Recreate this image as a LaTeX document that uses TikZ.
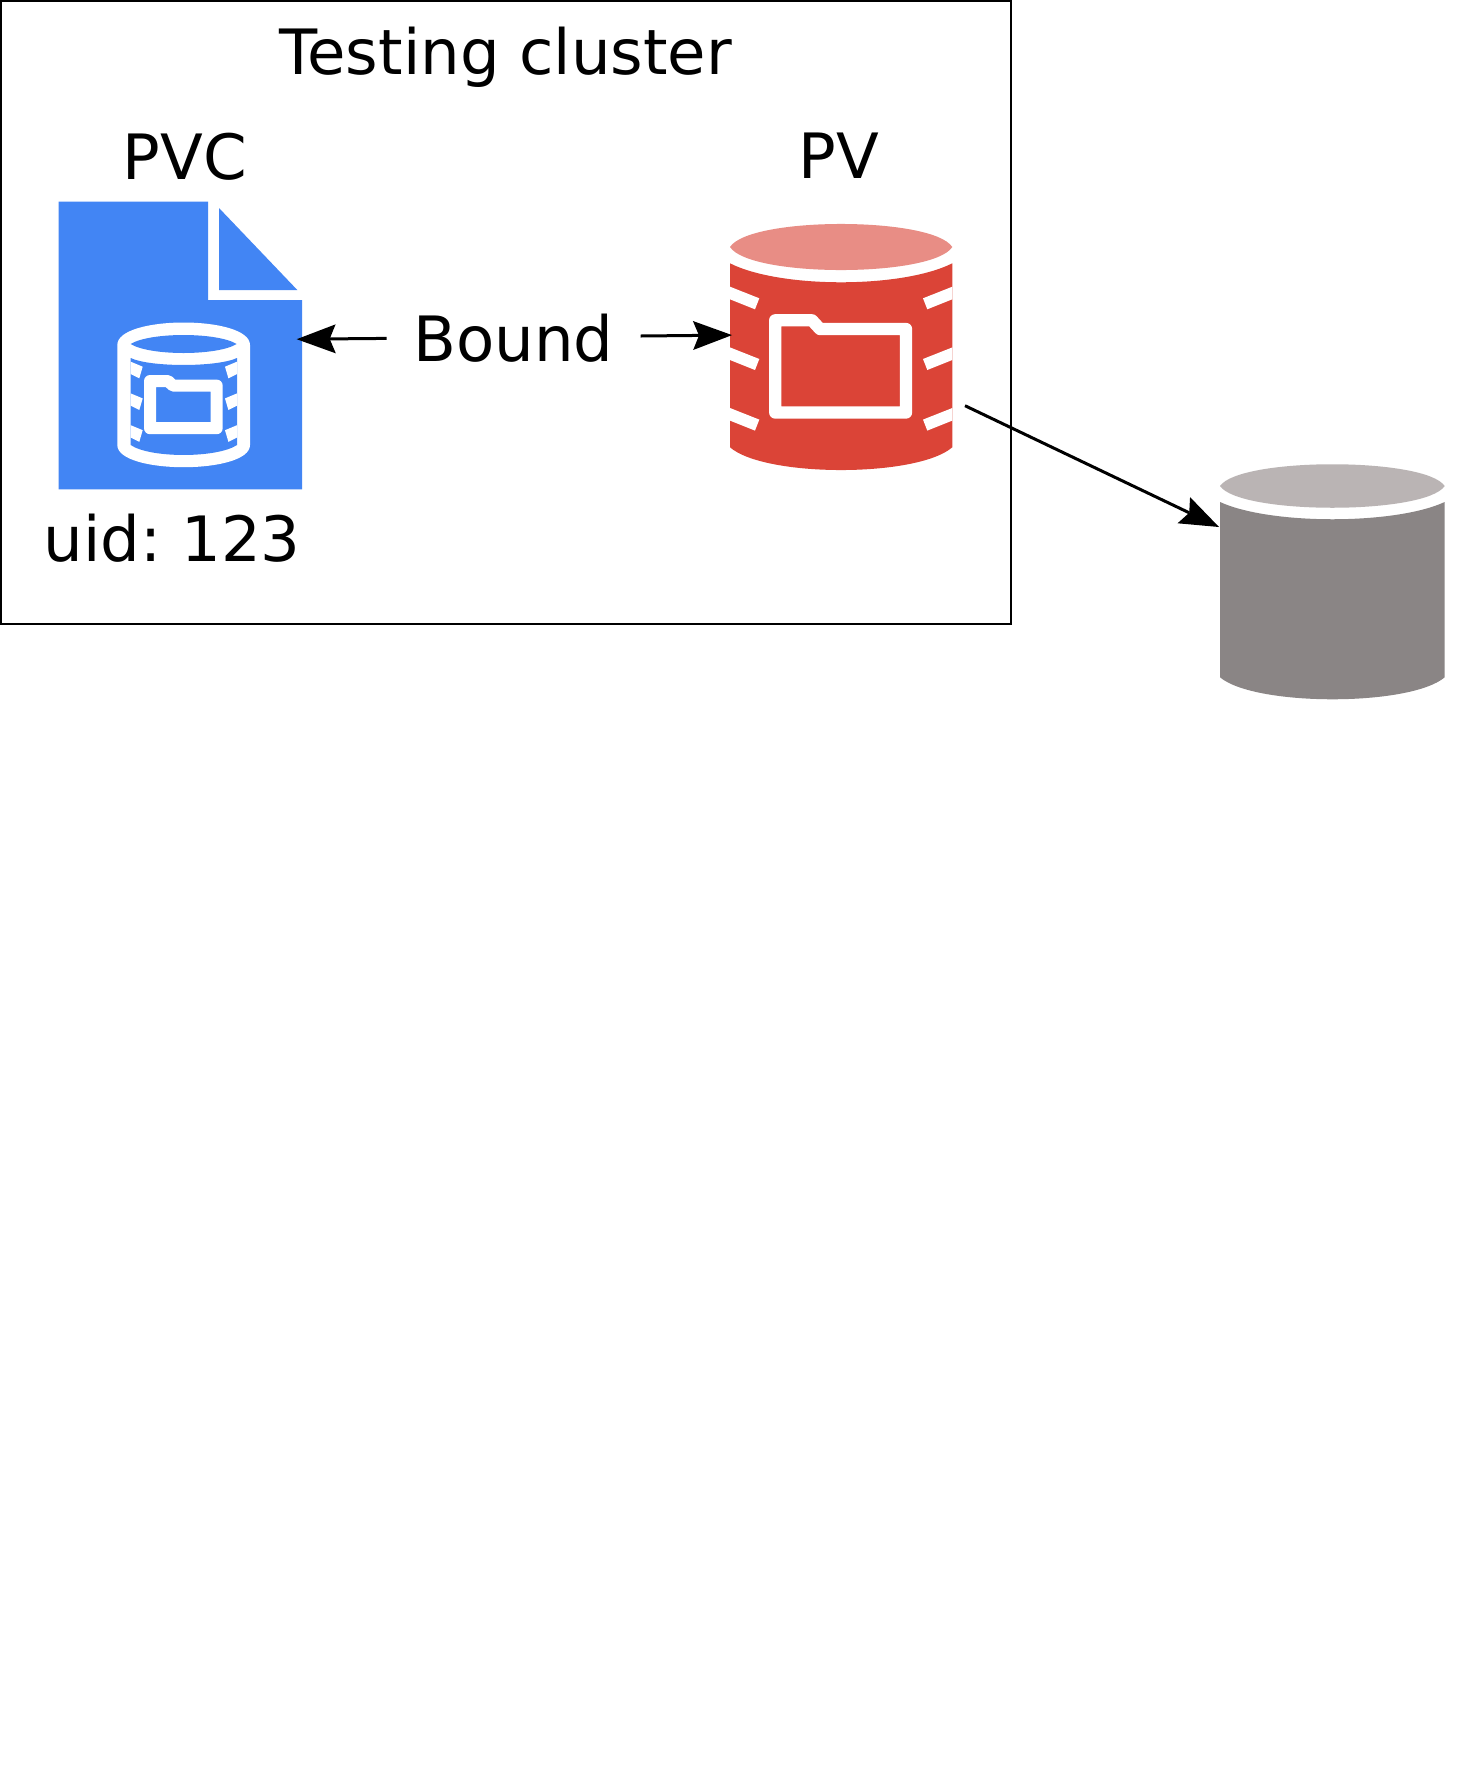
\documentclass[tikz,border=0pt]{standalone}
\usepackage{fontspec}
\setmainfont{DejaVu Sans}
\usetikzlibrary{arrows.meta}
\definecolor{pvcblue}{HTML}{4285F4}
\definecolor{pvred}{HTML}{DB4437}
\definecolor{pvredlight}{HTML}{E88D85}
\definecolor{diskgrey}{HTML}{8A8585}
\definecolor{diskgreylight}{HTML}{BAB4B4}
\tikzset{
  label text/.style={inner sep=0pt,anchor=base,font=\fontsize{62.5}{70}\selectfont\frenchspacing,text=black},
  link/.style={draw=black,line width=3pt,-{Stealth[length=39pt,width=29pt,inset=6pt,line width=0pt]}},
  frame box/.style={draw=black,line width=2pt,fill=none},
  tick/.style={fill=white,draw=none},
  folder big/.style={draw=white,line width=12.3pt,line join=round},
  folder small/.style={draw=white,line width=12pt,line join=round}
}
\begin{document}
\begin{tikzpicture}[x=1pt,y=-1pt]
\useasboundingbox (0,0) rectangle (1471,1770);
\fill[white] (0,0) rectangle (1471,1770);
% cluster frame
\draw[frame box] (1.1,1.1) rectangle (1010.5,623.5);
% PVC document
\fill[pvcblue] (58.7,201.7) -- (208,201.7) -- (208,300) -- (302,300) -- (302,489.3) -- (58.7,489.3) -- cycle;
\fill[pvcblue] (219,208) -- (219,290) -- (297.3,290) -- cycle;
% small cylinder
\fill[white] (117.3,345) .. controls (117.3,315) and (250,315) .. (250,345) -- (250,445) .. controls (250,474.6) and (117.3,474.6) .. (117.3,445) -- cycle;
\fill[pvcblue] (130.7,344) .. controls (150,332) and (217,332) .. (236.7,344) .. controls (217,356) and (150,356) .. cycle;
\fill[pvcblue] (130.7,358) .. controls (150,367.3) and (217,367.3) .. (237,358) -- (237,445) .. controls (217,458.3) and (150,458.3) .. (130.7,445) -- cycle;
\foreach \dy in {0,31.7,63.5}{
  \fill[tick] (130.7,361.7+\dy) -- (142.7,366.7+\dy) -- (139.3,378.3+\dy) -- (130.7,374+\dy) -- cycle;
  \fill[tick] (237,361.7+\dy) -- (225,366.7+\dy) -- (228.4,378.3+\dy) -- (237,374+\dy) -- cycle;
}
\draw[folder small,fill=pvcblue] (150,381) -- (168,381) -- (173,385.6) -- (216.7,385.6) -- (216.7,428.2) -- (150,428.2) -- cycle;
% PV cylinder
\fill[pvredlight] (730,247) .. controls (750,216.3) and (932,216.3) .. (952.3,247) .. controls (932,277.7) and (750,277.7) .. cycle;
\fill[pvred] (730,263.3) .. controls (780,288.6) and (902,288.6) .. (952.3,263.3) -- (952.3,447.3) .. controls (917,477.6) and (765,477.6) .. (730,447.3) -- cycle;
\foreach \dy in {0,60.7,121.3}{
  \fill[tick] (730,286.7+\dy) -- (759.3,298.3+\dy) -- (755,309.3+\dy) -- (730,299.3+\dy) -- cycle;
  \fill[tick] (952.3,286.7+\dy) -- (923,298.3+\dy) -- (927.3,309.3+\dy) -- (952.3,299.3+\dy) -- cycle;
}
\draw[folder big,fill=pvred] (775.2,320.3) -- (812,320.3) -- (820,329) -- (906,329) -- (906,412.5) -- (775.2,412.5) -- cycle;
% grey cylinder
\fill[diskgreylight] (1220,486) .. controls (1240,457) and (1425,457) .. (1444.7,486) .. controls (1425,515) and (1240,515) .. cycle;
\fill[diskgrey] (1220,502) .. controls (1270,525) and (1395,525) .. (1444.7,502) -- (1444.7,677.3) .. controls (1410,706.6) and (1255,706.6) .. (1220,677.3) -- cycle;
% texts
\node[label text] (title) at (506,74.2) {Testing cluster};
\node[label text] (pvc) at (184.8,179.2) {PVC};
\node[label text] (pv) at (838.8,178.8) {PV};
\node[label text] (bound) at (513.3,361.2) {Bound};
\node[label text] (uid) at (172.3,561.2) {uid: 123};
% connector ends
\coordinate (boundleft) at (386.7,338.4);
\coordinate (pvcside) at (296.7,339.2);
\coordinate (boundright) at (640.7,336);
\coordinate (pvside) at (732,335.1);
\coordinate (pvout) at (965,405.7);
\coordinate (diskin) at (1219,527);
\draw[link] (boundleft) -- (pvcside);
\draw[link] (boundright) -- (pvside);
\draw[link] (pvout) -- (diskin);
\end{tikzpicture}
\end{document}
